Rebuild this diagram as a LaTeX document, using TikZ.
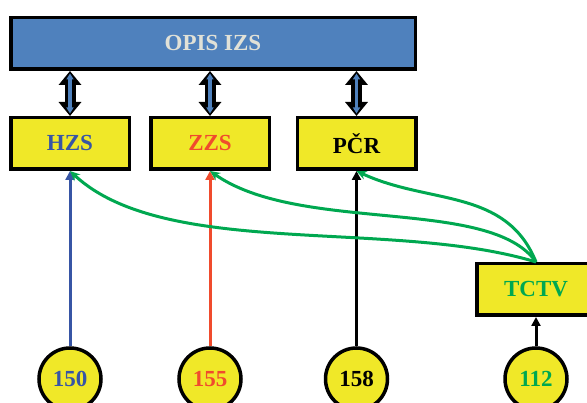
\documentclass[tikz,border=0pt]{standalone}
\usepackage{fontspec}
\setmainfont{Liberation Serif}
\usetikzlibrary{arrows.meta}
\definecolor{opisblue}{RGB}{79,129,189}
\definecolor{opistext}{RGB}{225,225,215}
\definecolor{boxyellow}{RGB}{240,232,40}
\definecolor{hzsblue}{RGB}{55,85,165}
\definecolor{zzsred}{RGB}{240,75,45}
\definecolor{tctvgreen}{RGB}{0,168,80}
\tikzset{>=stealth}
\tikzset{
  opisbox/.style={draw=black,line width=3.5pt,fill=opisblue,text=opistext,
    minimum width=404.5pt,minimum height=51.5pt,
    font=\bfseries\fontsize{23}{23}\selectfont},
  unitbox/.style={draw=black,line width=3.5pt,fill=boxyellow,
    minimum width=118.5pt,minimum height=51.5pt,
    font=\bfseries\fontsize{23}{23}\selectfont},
  callnode/.style={circle,draw=black,line width=3.5pt,fill=boxyellow,
    minimum size=62pt,inner sep=0pt,
    font=\bfseries\fontsize{23}{23}\selectfont}
}
\tikzset{
  linkouter/.style={line width=11pt,
    {Triangle[length=14pt,width=22pt]}-{Triangle[length=14pt,width=22pt]}},
  linkinner/.style={opisblue,line width=3.5pt,shorten <=2.5pt,shorten >=2.5pt,
    {Triangle[length=6pt,width=7pt]}-{Triangle[length=6pt,width=7pt]}},
  callline/.style={line width=3pt,-{Triangle[length=9pt,width=9pt]}},
  relay/.style={tctvgreen,line width=3pt,-{Stealth[length=10pt,width=9pt]}}
}

\begin{document}
\begin{tikzpicture}[x=1pt,y=1pt]
    \useasboundingbox (0,0) rectangle (587,403);
    \clip (0,0) rectangle (587,403);
    \node[opisbox](opis) at (213,359.5) {OPIS IZS};
    \node[unitbox,text=hzsblue](hzs) at (70,259.5) {HZS};
    \node[unitbox,text=zzsred](zzs) at (210,259.5) {ZZS};
    \node[unitbox](pcr) at (356.5,259.5) {PČR};
    \node[unitbox,text=tctvgreen](tctv) at (536,113.5) {TCTV};
    \node[callnode,text=hzsblue](c150) at (70,24) {150};
    \node[callnode,text=zzsred](c155) at (210,24) {155};
    \node[callnode](c158) at (356.5,24) {158};
    \node[callnode,text=tctvgreen](c112) at (536,24) {112};
    % links to OPIS
    \foreach \u in {hzs,zzs,pcr}{
        \draw[linkouter] (opis.south -| \u.north) -- (\u.north);
        \draw[linkinner] (opis.south -| \u.north) -- (\u.north);
    }
    % emergency calls
    \draw[callline,hzsblue] (c150.north) -- (hzs.south);
    \draw[callline,zzsred] (c155.north) -- (zzs.south);
    \draw[callline] (c158.north) -- (pcr.south);
    \draw[callline] (c112.north) -- (tctv.south);
    % TCTV forwarding
    \draw[relay] (tctv.north) .. controls +(163:150) and +(-43:130) .. (hzs.south);
    \draw[relay] (tctv.north) .. controls +(125:80) and +(-35:110) .. (zzs.south);
    \draw[relay] (tctv.north) .. controls +(112:80) and +(-25:80) .. (pcr.south);
\end{tikzpicture}
\end{document}
